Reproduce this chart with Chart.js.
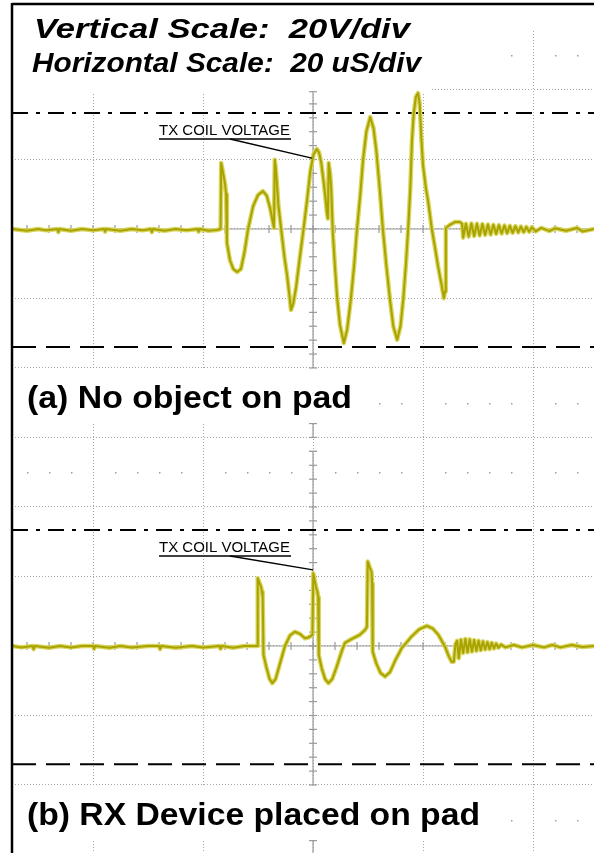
<!DOCTYPE html>
<html>
<head>
<meta charset="utf-8">
<title>TX coil voltage</title>
<script src="https://cdn.jsdelivr.net/npm/chart.js@4.4.1/dist/chart.umd.min.js"></script>
<style>
  html, body { margin: 0; padding: 0; background: #fff; }
  canvas { display: block; }
</style>
</head>
<body>
<canvas id="scope" width="594" height="853"></canvas>
<script>
// scope traces, time in uS and voltage in V (20 V/div, 20 uS/div)
const timesA = [-54.7, -52, -50, -48.5, -46.5, -46.3, -46.1, -44, -42, -40, -38, -37.8, -37.6, -35, -33, -31, -29.5, -29.3, -29.1,
    -27, -25, -23, -21, -20.8, -20.6, -19, -17.5, -16.8,
    -16.7, -16.45, -16.0, -15.8, -15.65, -15.1, -14.5, -13.8, -13.1, -12.5, -11.8, -10.9, -10.0, -9.1, -8.4, -7.8, -7.1,
    -6.95, -6.8, -6.6, -6.3, -5.8, -5.2, -4.7, -4.3, -4.0, -3.6, -3.1, -2.5, -1.8, -1.1, -0.5, 0.1, 0.7, 1.1, 1.5, 1.9, 2.2, 2.5, 2.7,
    2.85, 3.1, 3.3, 3.6, 4.0, 4.4, 4.9, 5.6, 6.2, 6.9, 7.5, 8.0, 8.6, 9.1, 9.7, 10.4, 11.0, 11.5, 12.1, 12.7, 13.3, 14.0, 14.6,
    15.3, 15.9, 16.4, 16.9, 17.3, 17.7, 18.0, 18.3, 18.7, 19.1, 19.4, 19.7, 20.0, 20.5, 20.9, 21.6, 22.2, 22.7, 23.3, 23.8, 24.0,
    24.15, 24.9, 25.8, 26.7, 27.1, 27.3, 27.8, 28.3, 28.8, 29.3, 29.8, 30.3, 30.8, 31.3, 31.8, 32.3, 32.8, 33.3, 33.8, 34.3,
    34.8, 35.3, 35.8, 36.3, 36.8, 37.3, 37.8, 38.3, 38.8, 39.3, 39.8, 40.5, 41.5, 43, 44, 46, 48, 49, 51.1];
const voltsA = [0, -0.5, 0, -0.4, 0, -0.9, 0, -0.5, 0, -0.4, 0, -0.8, 0, -0.5, 0, -0.4, 0, -0.9, 0,
    -0.5, 0, -0.4, 0, -0.8, 0, -0.5, -0.3, 0,
    19, 17, 13, 10, -4, -9, -11.5, -12.4, -11.5, -7, 0, 6.5, 9.8, 10.9, 9.5, 6, 0.3,
    19.9, 18, 14, 7, 0, -8, -13.5, -19, -23.3, -21.5, -17, -9.5, -1, 8, 16.5, 21.5, 23, 22, 19, 14, 9.8, 5, 3,
    19, 16, 12, -1, -11, -20, -27.6, -32.8, -29, -20, -10, 0, 10, 19.9, 28, 32.2, 29, 22.7, 12, 0, -10, -20.4, -28,
    -31.9, -28, -20.4, -10, 0, 12, 25.6, 33, 38, 39.1, 36, 26, 18.4, 12, 8.3, 0, -5.5, -10.4, -15.5, -19.9, -18,
    0.3, 1.2, 2.0, 2.0, 1.5, -2.5, 1.5, -2.2, 1.6, -2.0, 1.5, -1.9, 1.4, -1.7, 1.3, -1.6, 1.2, -1.4, 1.1, -1.3,
    1.0, -1.2, 0.9, -1.1, 0.8, -1.0, 0.7, -0.9, 0.6, -0.8, 0.5, -0.7, 0.3, -0.6, 0.2, -0.5, 0.3, -0.7, 0];

const timesB = [-54.7, -53, -51, -50.8, -50.6, -48, -46, -44, -42, -40, -39.8, -39.6, -37, -35, -33, -30, -28, -27.8, -27.6,
    -25, -22, -20, -17, -16.8, -16.6, -14.5, -12.5, -10.1,
    -10.05, -9.45, -9.27, -9.15, -9.0, -8.5, -7.9, -7.4, -6.8, -6.0, -5.1, -4.2, -3.3, -2.4, -1.45, -0.8, -0.1,
    0.05, 0.55, 0.8, 0.95, 1.05, 1.6, 2.2, 2.8, 3.5, 4.3, 5.2, 5.8, 7.0, 8.5, 9.45, 9.8,
    9.95, 10.36, 10.64, 10.75, 10.85, 11.5, 12.3, 13.1, 14.0, 15.0, 16.1, 17.9, 19.3, 20.7, 21.8, 22.8, 24.0, 24.7, 25.2, 25.6,
    25.9, 26.2, 26.5, 26.9, 27.3, 27.7, 28.1, 28.5, 28.9, 29.3, 29.7, 30.1, 30.5, 30.9, 31.3, 31.7, 32.1, 32.5, 32.9, 33.3,
    33.7, 34.2, 35, 36.5, 38, 40, 42, 43.5, 45, 47, 49, 51.1];
const voltsB = [0, -0.4, 0, -0.9, 0, -0.5, 0, -0.4, 0, 0, -0.8, 0, -0.5, 0, -0.4, 0, 0, -0.9, 0,
    -0.5, 0, -0.4, 0, -0.8, 0, -0.5, 0, 0,
    19.5, 17, 15.6, 14, -2.6, -6, -9.5, -10.7, -9.5, -5, 0, 3, 4.1, 3.5, 2.2, 2.5, 3.2,
    20.9, 17, 15.6, 14, -2.6, -6.5, -9.5, -10.7, -9.5, -6, -1.6, 0.9, 2, 3.2, 4.6, 5.5,
    24.3, 22.4, 21.4, 18, -1.6, -5, -7.8, -8.8, -7.5, -4, -0.7, 2.7, 4.8, 5.8, 5, 3.2, -0.2, -3, -4.5, -4.5,
    0.5, 1.5, -3.5, 1.8, -2.0, 2.0, -1.8, 1.9, -1.6, 1.7, -1.4, 1.5, -1.2, 1.3, -1.0, 1.1, -0.9, 0.9, -0.7, 0.7,
    -0.5, 0.4, -0.4, 0.3, -0.4, 0.3, -0.4, 0.3, -0.4, 0.3, -0.3, 0];

// cursor levels (V) and the captions
const cursorHigh = 33.4;
const cursorLow = -34;
const scaleLines = ['Vertical Scale:  20V/div', 'Horizontal Scale:  20 uS/div'];
const panelLabels = ['(a) No object on pad', '(b) RX Device placed on pad'];
const traceLabel = 'TX COIL VOLTAGE';

// visible window of the two screenshots
const tMin = -54.73, tMax = 51.09;
const aTop = 64.75, aBottom = -179.6;
const bTop = 184.75, bBottom = -59.57;

const traceCore = '#a8a300';
const traceGlow = '#d9d55e';
const gridGrey = '#a6a6a6';

function toPoints(ts, vs) {
    return ts.map((t, i) => ({ x: t, y: vs[i] }));
}

function line(c, x1, y1, x2, y2) {
    c.beginPath();
    c.moveTo(x1, y1);
    c.lineTo(x2, y2);
    c.stroke();
}

function fitText(c, txt, x, y, w, font) {
    c.save();
    c.font = font;
    let sx = w / c.measureText(txt).width;
    c.translate(x, y);
    c.scale(sx, 1);
    c.fillText(txt, 0, 0);
    c.restore();
}

const scopeDecor = {
    id: 'scopeDecor',
    beforeDatasetsDraw(chart) {
        const c = chart.ctx;
        const sx = chart.scales.x, ya = chart.scales.ya, yb = chart.scales.yb;
        const area = chart.chartArea;
        c.save();

        // caption areas are blank
        c.fillStyle = '#fff';
        c.fillRect(area.left, area.top, 420, 89);
        c.fillRect(area.left, area.top, area.right - area.left, 26);
        c.fillRect(area.left, 370, 364, 54);
        c.fillRect(area.left, 787, 493, 53);

        // leftover minor-tick dots
        c.fillStyle = '#9c9c9c';
        [[ya, 50, 36], [ya, -50, 12], [yb, 50, -54], [yb, -50, 36]].forEach(r => {
            const py = Math.round(r[0].getPixelForValue(r[1]));
            for (let t = -52; t <= 52; t += 4) {
                if (t % 20 === 0 || t < r[2]) continue;
                c.fillRect(Math.round(sx.getPixelForValue(t)), py, 1.5, 1.5);
            }
        });

        // centre axes with minor ticks
        c.strokeStyle = '#9a9a9a';
        c.lineWidth = 1.2;
        const x0 = sx.getPixelForValue(0);
        [ya, yb].forEach(sc => {
            const py = sc.getPixelForValue(0);
            line(c, area.left, py, area.right, py);
            for (let t = -52; t <= 52; t += 4) {
                const px = sx.getPixelForValue(t);
                line(c, px, py - 4, px, py + 4);
            }
        });
        [[ya, 39.5, -40], [yb, 56, -40]].forEach(s => {
            const top = s[0].getPixelForValue(s[1]);
            const bot = s[0].getPixelForValue(s[2]);
            line(c, x0, top, x0, bot);
            line(c, x0 - 4, top, x0 + 4, top);
            for (let v = -40; v <= s[1]; v += 4) {
                const py = s[0].getPixelForValue(v);
                line(c, x0 - 4, py, x0 + 4, py);
            }
        });
        const i1 = ya.getPixelForValue(-56), i2 = ya.getPixelForValue(-60);
        line(c, x0, i1, x0, i2);
        line(c, x0 - 4, i1, x0 + 4, i1);
        line(c, x0 - 4, i2, x0 + 4, i2);
        const t1 = yb.getPixelForValue(-56);
        line(c, x0, t1, x0, area.bottom);
        line(c, x0 - 4, t1, x0 + 4, t1);

        // cursors
        c.strokeStyle = '#000';
        c.lineWidth = 2;
        [ya, yb].forEach(sc => {
            c.setLineDash([16, 8, 4, 8]);
            const ph = sc.getPixelForValue(cursorHigh);
            line(c, area.left, ph, area.right, ph);
            c.setLineDash([24, 10]);
            const pl = sc.getPixelForValue(cursorLow);
            line(c, area.left, pl, area.right, pl);
        });
        c.restore();
    },
    afterDatasetsDraw(chart) {
        const c = chart.ctx;
        const sx = chart.scales.x, ya = chart.scales.ya, yb = chart.scales.yb;
        c.save();
        c.fillStyle = '#000';
        c.strokeStyle = '#000';

        // TX COIL VOLTAGE labels and leader lines
        [[ya, 135, 20.4, -0.2], [yb, 552, 21.9, 0]].forEach(a => {
            fitText(c, traceLabel, 159, a[1], 131, '14px "Liberation Sans", Arial, sans-serif');
            c.lineWidth = 1.3;
            line(c, 159, a[1] + 4, 291, a[1] + 4);
            line(c, 230, a[1] + 4, sx.getPixelForValue(a[3]), a[0].getPixelForValue(a[2]));
        });

        // captions
        fitText(c, scaleLines[0], 34, 38, 376, 'italic bold 27px "Liberation Sans", Arial, sans-serif');
        fitText(c, scaleLines[1], 32, 72, 389, 'italic bold 27px "Liberation Sans", Arial, sans-serif');
        fitText(c, panelLabels[0], 27, 408, 325, 'bold 31px "Liberation Sans", Arial, sans-serif');
        fitText(c, panelLabels[1], 27, 825, 453, 'bold 31px "Liberation Sans", Arial, sans-serif');

        // frame
        c.lineWidth = 2.5;
        line(c, 12, 4, 594, 4);
        line(c, 12, 3, 12, 853);
        c.restore();
    }
};

const ctx = document.getElementById('scope');

let cfg = {
    type: 'line',
    data: {
        datasets: [
            { data: toPoints(timesA, voltsA), yAxisID: 'ya', borderColor: traceCore, borderWidth: 2, order: 1 },
            { data: toPoints(timesB, voltsB), yAxisID: 'yb', borderColor: traceCore, borderWidth: 2, order: 1 },
            { data: toPoints(timesA, voltsA), yAxisID: 'ya', borderColor: traceGlow, borderWidth: 4.5, order: 2 },
            { data: toPoints(timesB, voltsB), yAxisID: 'yb', borderColor: traceGlow, borderWidth: 4.5, order: 2 }
        ]
    },
    options: {
        responsive: false,
        animation: false,
        devicePixelRatio: 1,
        layout: { padding: { left: 12, top: 4, right: 0, bottom: 0 } },
        elements: { point: { radius: 0 }, line: { tension: 0, borderJoinStyle: 'round' } },
        plugins: { legend: { display: false }, tooltip: { enabled: false } },
        scales: {
            x: {
                type: 'linear', min: tMin, max: tMax,
                ticks: { display: false, stepSize: 20, includeBounds: false },
                grid: { color: gridGrey, drawTicks: false, lineWidth: 1 },
                border: { display: false, dash: [1, 2] }
            },
            ya: {
                type: 'linear', position: 'left', min: aBottom, max: aTop,
                ticks: { display: false, stepSize: 20, includeBounds: false },
                grid: { color: gridGrey, drawTicks: false, lineWidth: 1 },
                border: { display: false, dash: [1, 2] }
            },
            yb: {
                type: 'linear', position: 'left', min: bBottom, max: bTop, display: false
            }
        }
    },
    plugins: [scopeDecor]
};

let myChart = new Chart(ctx, cfg);
</script>
</body>
</html>
